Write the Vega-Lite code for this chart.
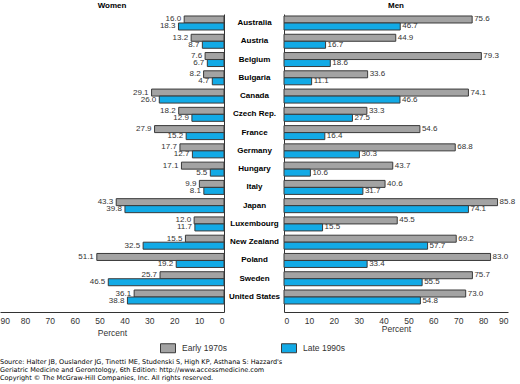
{
  "$schema": "https://vega.github.io/schema/vega-lite/v6.json",
  "padding": {"left": 0, "top": 2, "right": 0, "bottom": 0},
  "background": "white",
  "config": {
    "font": "Liberation Sans",
    "view": {"stroke": null},
    "axis": {"grid": false, "domainColor": "#333333", "labelColor": "#333333", "titleColor": "#333333", "labelFont": "Liberation Sans", "titleFont": "Liberation Sans"}
  },
  "title": {
    "text": ["Source: Halter JB, Ouslander JG, Tinetti ME, Studenski S, High KP, Asthana S: Hazzard's", "Geriatric Medicine and Gerontology, 6th Edition: http://www.accessmedicine.com"],
    "subtitle": "Copyright © The McGraw-Hill Companies, Inc. All rights reserved.",
    "orient": "bottom",
    "anchor": "start",
    "frame": "bounds",
    "font": "DejaVu Sans",
    "fontSize": 6.5,
    "fontWeight": "normal",
    "color": "black",
    "lineHeight": 8.3,
    "subtitleFont": "DejaVu Sans",
    "subtitleFontSize": 6.5,
    "subtitleColor": "black",
    "subtitlePadding": 1.5,
    "offset": 4
  },
  "data": {"values": [
    {"country": "Australia", "sex": "Women", "period": "Early 1970s", "value": 16.0},
    {"country": "Australia", "sex": "Women", "period": "Late 1990s", "value": 18.3},
    {"country": "Australia", "sex": "Men", "period": "Early 1970s", "value": 75.6},
    {"country": "Australia", "sex": "Men", "period": "Late 1990s", "value": 46.7},
    {"country": "Austria", "sex": "Women", "period": "Early 1970s", "value": 13.2},
    {"country": "Austria", "sex": "Women", "period": "Late 1990s", "value": 8.7},
    {"country": "Austria", "sex": "Men", "period": "Early 1970s", "value": 44.9},
    {"country": "Austria", "sex": "Men", "period": "Late 1990s", "value": 16.7},
    {"country": "Belgium", "sex": "Women", "period": "Early 1970s", "value": 7.6},
    {"country": "Belgium", "sex": "Women", "period": "Late 1990s", "value": 6.7},
    {"country": "Belgium", "sex": "Men", "period": "Early 1970s", "value": 79.3},
    {"country": "Belgium", "sex": "Men", "period": "Late 1990s", "value": 18.6},
    {"country": "Bulgaria", "sex": "Women", "period": "Early 1970s", "value": 8.2},
    {"country": "Bulgaria", "sex": "Women", "period": "Late 1990s", "value": 4.7},
    {"country": "Bulgaria", "sex": "Men", "period": "Early 1970s", "value": 33.6},
    {"country": "Bulgaria", "sex": "Men", "period": "Late 1990s", "value": 11.1},
    {"country": "Canada", "sex": "Women", "period": "Early 1970s", "value": 29.1},
    {"country": "Canada", "sex": "Women", "period": "Late 1990s", "value": 26.0},
    {"country": "Canada", "sex": "Men", "period": "Early 1970s", "value": 74.1},
    {"country": "Canada", "sex": "Men", "period": "Late 1990s", "value": 46.6},
    {"country": "Czech Rep.", "sex": "Women", "period": "Early 1970s", "value": 18.2},
    {"country": "Czech Rep.", "sex": "Women", "period": "Late 1990s", "value": 12.9},
    {"country": "Czech Rep.", "sex": "Men", "period": "Early 1970s", "value": 33.3},
    {"country": "Czech Rep.", "sex": "Men", "period": "Late 1990s", "value": 27.5},
    {"country": "France", "sex": "Women", "period": "Early 1970s", "value": 27.9},
    {"country": "France", "sex": "Women", "period": "Late 1990s", "value": 15.2},
    {"country": "France", "sex": "Men", "period": "Early 1970s", "value": 54.6},
    {"country": "France", "sex": "Men", "period": "Late 1990s", "value": 16.4},
    {"country": "Germany", "sex": "Women", "period": "Early 1970s", "value": 17.7},
    {"country": "Germany", "sex": "Women", "period": "Late 1990s", "value": 12.7},
    {"country": "Germany", "sex": "Men", "period": "Early 1970s", "value": 68.8},
    {"country": "Germany", "sex": "Men", "period": "Late 1990s", "value": 30.3},
    {"country": "Hungary", "sex": "Women", "period": "Early 1970s", "value": 17.1},
    {"country": "Hungary", "sex": "Women", "period": "Late 1990s", "value": 5.5},
    {"country": "Hungary", "sex": "Men", "period": "Early 1970s", "value": 43.7},
    {"country": "Hungary", "sex": "Men", "period": "Late 1990s", "value": 10.6},
    {"country": "Italy", "sex": "Women", "period": "Early 1970s", "value": 9.9},
    {"country": "Italy", "sex": "Women", "period": "Late 1990s", "value": 8.1},
    {"country": "Italy", "sex": "Men", "period": "Early 1970s", "value": 40.6},
    {"country": "Italy", "sex": "Men", "period": "Late 1990s", "value": 31.7},
    {"country": "Japan", "sex": "Women", "period": "Early 1970s", "value": 43.3},
    {"country": "Japan", "sex": "Women", "period": "Late 1990s", "value": 39.8},
    {"country": "Japan", "sex": "Men", "period": "Early 1970s", "value": 85.8},
    {"country": "Japan", "sex": "Men", "period": "Late 1990s", "value": 74.1},
    {"country": "Luxembourg", "sex": "Women", "period": "Early 1970s", "value": 12.0},
    {"country": "Luxembourg", "sex": "Women", "period": "Late 1990s", "value": 11.7},
    {"country": "Luxembourg", "sex": "Men", "period": "Early 1970s", "value": 45.5},
    {"country": "Luxembourg", "sex": "Men", "period": "Late 1990s", "value": 15.5},
    {"country": "New Zealand", "sex": "Women", "period": "Early 1970s", "value": 15.5},
    {"country": "New Zealand", "sex": "Women", "period": "Late 1990s", "value": 32.5},
    {"country": "New Zealand", "sex": "Men", "period": "Early 1970s", "value": 69.2},
    {"country": "New Zealand", "sex": "Men", "period": "Late 1990s", "value": 57.7},
    {"country": "Poland", "sex": "Women", "period": "Early 1970s", "value": 51.1},
    {"country": "Poland", "sex": "Women", "period": "Late 1990s", "value": 19.2},
    {"country": "Poland", "sex": "Men", "period": "Early 1970s", "value": 83.0},
    {"country": "Poland", "sex": "Men", "period": "Late 1990s", "value": 33.4},
    {"country": "Sweden", "sex": "Women", "period": "Early 1970s", "value": 25.7},
    {"country": "Sweden", "sex": "Women", "period": "Late 1990s", "value": 46.5},
    {"country": "Sweden", "sex": "Men", "period": "Early 1970s", "value": 75.7},
    {"country": "Sweden", "sex": "Men", "period": "Late 1990s", "value": 55.5},
    {"country": "United States", "sex": "Women", "period": "Early 1970s", "value": 36.1},
    {"country": "United States", "sex": "Women", "period": "Late 1990s", "value": 38.8},
    {"country": "United States", "sex": "Men", "period": "Early 1970s", "value": 73.0},
    {"country": "United States", "sex": "Men", "period": "Late 1990s", "value": 54.8}
  ]},
  "bounds": "flush",
  "spacing": 60,
  "resolve": {"scale": {"color": "independent", "x": "independent", "y": "independent"}, "legend": {"color": "independent"}},
  "hconcat": [
    {
      "width": 224,
      "height": 298,
      "title": {"text": "Women", "fontSize": 8, "fontWeight": "bold", "color": "black", "anchor": "middle", "frame": "group", "offset": 4},
      "transform": [{"filter": "datum.sex == 'Women'"}],
      "encoding": {
        "y": {"field": "country", "type": "nominal", "sort": null,
          "scale": {"paddingInner": 0.2336, "paddingOuter": 0.2737, "align": 0.2},
          "axis": {"orient": "right", "title": null, "ticks": false, "labelAlign": "center", "labelPadding": 30, "labelFontWeight": "bold", "labelFontSize": 8, "labelColor": "black", "domainColor": "#333333"}},
        "yOffset": {"field": "period", "type": "nominal", "sort": ["Early 1970s", "Late 1990s"], "scale": {"paddingInner": 0, "paddingOuter": 0}},
        "x": {"field": "value", "type": "quantitative",
          "scale": {"domain": [0, 90], "reverse": true, "nice": false},
          "axis": {"values": [0, 10, 20, 30, 40, 50, 60, 70, 80, 90], "ticks": false, "labelPadding": 4, "labelFontSize": 8.5, "title": "Percent", "titleFontWeight": "normal", "titleFontSize": 8.5, "titlePadding": 4}}
      },
      "layer": [
        {
          "mark": {"type": "bar", "stroke": "#3a3a3a", "strokeWidth": 1},
          "encoding": {
            "color": {"field": "period", "type": "nominal",
              "scale": {"domain": ["Early 1970s", "Late 1990s"], "range": ["#a3a3a3", "#12aae6"]},
              "legend": {"orient": "none", "legendX": 160, "legendY": 326, "direction": "horizontal", "title": null,
                "symbolType": "M-1,-0.6H1V0.6H-1Z", "symbolSize": 225, "symbolStrokeColor": "#3a3a3a", "symbolStrokeWidth": 1,
                "labelFontSize": 8.5, "labelColor": "#333333", "labelOffset": 6, "columnPadding": 52}}
          }
        },
        {
          "mark": {"type": "text", "align": "right", "baseline": "middle", "dx": -3, "fontSize": 8, "color": "#333333"},
          "encoding": {"text": {"field": "value", "type": "quantitative", "format": ".1f"}}
        }
      ]
    },
    {
      "width": 224,
      "height": 298,
      "title": {"text": "Men", "fontSize": 8, "fontWeight": "bold", "color": "black", "anchor": "middle", "frame": "group", "offset": 4},
      "transform": [{"filter": "datum.sex == 'Men'"}],
      "encoding": {
        "y": {"field": "country", "type": "nominal", "sort": null,
          "scale": {"paddingInner": 0.2336, "paddingOuter": 0.2737, "align": 0.2},
          "axis": {"orient": "left", "title": null, "ticks": false, "labels": false, "domainColor": "#333333"}},
        "yOffset": {"field": "period", "type": "nominal", "sort": ["Early 1970s", "Late 1990s"], "scale": {"paddingInner": 0, "paddingOuter": 0}},
        "x": {"field": "value", "type": "quantitative",
          "scale": {"domain": [0, 90], "nice": false},
          "axis": {"values": [0, 10, 20, 30, 40, 50, 60, 70, 80, 90], "ticks": false, "labelPadding": 4, "labelFontSize": 8.5, "title": "Percent", "titleFontWeight": "normal", "titleFontSize": 8.5, "titlePadding": 0}}
      },
      "layer": [
        {
          "mark": {"type": "bar", "stroke": "#3a3a3a", "strokeWidth": 1},
          "encoding": {
            "color": {"field": "period", "type": "nominal",
              "scale": {"domain": ["Early 1970s", "Late 1990s"], "range": ["#a3a3a3", "#12aae6"]},
              "legend": null}
          }
        },
        {
          "mark": {"type": "text", "align": "left", "baseline": "middle", "dx": 2, "fontSize": 8, "color": "#333333"},
          "encoding": {"text": {"field": "value", "type": "quantitative", "format": ".1f"}}
        }
      ]
    }
  ]
}
